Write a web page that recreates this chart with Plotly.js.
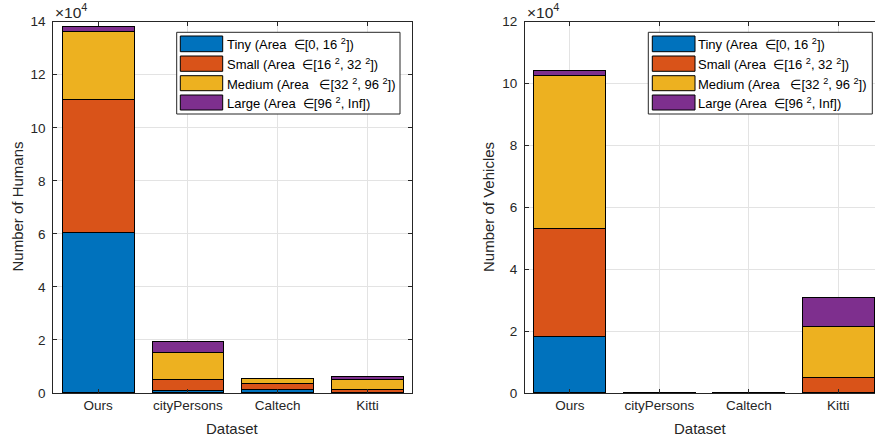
<!DOCTYPE html>
<html>
<head>
<meta charset="utf-8">
<script src="https://cdn.plot.ly/plotly-3.0.1.min.js"></script>
<style>html,body{margin:0;padding:0;background:#fff;}#chart{width:875px;height:440px;}</style>
</head>
<body>
<div id="chart"></div>
<script>
// ---- data ----
const categories = ["Ours", "cityPersons", "Caltech", "Kitti"];
const seriesNames = [
  "Tiny (Area \u00a0\u2208[0, 16 <sup>2</sup>])",
  "Small (Area \u00a0\u2208[16 <sup>2</sup>, 32 <sup>2</sup>])",
  "Medium (Area \u00a0\u00a0\u2208[32 <sup>2</sup>, 96 <sup>2</sup>])",
  "Large (Area \u00a0\u2208[96 <sup>2</sup>, Inf])"
];
const colors = ["#0072BD", "#D95319", "#EDB120", "#7E2F8E"];
// Humans
const humansTiny   = [60600, 1000, 1250, 200];
const humansSmall  = [49900, 3900, 2410, 1200];
const humansMedium = [25700, 10400, 1880, 3500];
const humansLarge  = [1900, 4300, 30, 1500];
// Vehicles
const vehiclesTiny   = [18300, 30, 30, 50];
const vehiclesSmall  = [34900, 30, 30, 5050];
const vehiclesMedium = [49500, 20, 20, 16300];
const vehiclesLarge  = [1400, 10, 10, 9500];

const humans = [humansTiny, humansSmall, humansMedium, humansLarge];
const vehicles = [vehiclesTiny, vehiclesSmall, vehiclesMedium, vehiclesLarge];

const W = 875, H = 440;
const px = x => x / W;
const py = y => 1 - y / H;

const traces = [];
humans.forEach((vals, i) => traces.push({
  type: 'bar', x: categories, y: vals, name: seriesNames[i], xaxis: 'x', yaxis: 'y',
  width: 0.8, marker: {color: colors[i], line: {color: '#000', width: 1}}, showlegend: false,
  hoverinfo: 'none'
}));
vehicles.forEach((vals, i) => traces.push({
  type: 'bar', x: categories, y: vals, name: seriesNames[i], xaxis: 'x2', yaxis: 'y2',
  width: 0.8, marker: {color: colors[i], line: {color: '#000', width: 1}}, showlegend: false,
  hoverinfo: 'none'
}));

const axColor = '#262626';
const gridColor = '#e3e3e3';
const fam = 'Liberation Sans, Arial, sans-serif';
const tickFont = {family: fam, size: 13.5, color: axColor};

function xAxis(domain, range) {
  return {
    domain: domain, range: range, type: 'category',
    showline: true, linecolor: axColor, linewidth: 1, mirror: 'ticks',
    ticks: 'inside', ticklen: 4, tickcolor: axColor,
    showgrid: true, gridcolor: gridColor, gridwidth: 1,
    tickfont: tickFont, zeroline: false, fixedrange: true
  };
}
function yAxis(domain, range, dtick, mirror, anchor) {
  const n = Math.round(range[1] / dtick) + 1;
  return {
    domain: domain, range: range, anchor: anchor,
    showline: true, linecolor: axColor, linewidth: 1, mirror: mirror,
    ticks: 'inside', ticklen: 4, tickcolor: axColor,
    showgrid: true, gridcolor: gridColor, gridwidth: 1,
    tickfont: tickFont, zeroline: false, fixedrange: true,
    tickmode: 'array',
    tickvals: Array.from({length: n}, (_, k) => k * dtick),
    ticktext: Array.from({length: n}, (_, k) => String(k * dtick / 10000)),
    ticklabelstandoff: 4
  };
}

const yDom = [py(393), py(21.7)];
const layout = {
  width: W, height: H,
  margin: {l: 0, r: 0, t: 0, b: 0},
  paper_bgcolor: '#fff', plot_bgcolor: '#fff',
  barmode: 'stack', bargap: 0.2,
  showlegend: false,
  xaxis: Object.assign(xAxis([px(53.3), px(412.3)], [-0.5, 3.5]), {anchor: 'y'}),
  yaxis: yAxis(yDom, [0, 140000], 20000, 'ticks', 'x'),
  xaxis2: Object.assign(xAxis([px(525), 1], [-0.5, 3.41]), {anchor: 'y2'}),
  yaxis2: yAxis(yDom, [0, 120000], 20000, false, 'x2'),
  shapes: [],
  annotations: []
};

const labelFont = {family: fam, size: 15, color: axColor};
layout.annotations.push(
  {text: 'Dataset', xref: 'paper', yref: 'paper', x: px(232.8), y: py(428.5), showarrow: false, font: labelFont, xanchor: 'center', yanchor: 'middle'},
  {text: 'Dataset', xref: 'paper', yref: 'paper', x: px(700), y: py(428.5), showarrow: false, font: labelFont, xanchor: 'center', yanchor: 'middle'},
  {text: 'Number of Humans', xref: 'paper', yref: 'paper', x: px(16.5), y: py(207), textangle: -90, showarrow: false, font: labelFont, xanchor: 'center', yanchor: 'middle'},
  {text: 'Number of Vehicles', xref: 'paper', yref: 'paper', x: px(488), y: py(207), textangle: -90, showarrow: false, font: labelFont, xanchor: 'center', yanchor: 'middle'},
  {text: '\u00d710<sup>4</sup>', xref: 'paper', yref: 'paper', x: px(53), y: py(11), showarrow: false, font: {family: fam, size: 15.5, color: axColor}, xanchor: 'left', yanchor: 'middle'},
  {text: '\u00d710<sup>4</sup>', xref: 'paper', yref: 'paper', x: px(525), y: py(11), showarrow: false, font: {family: fam, size: 15.5, color: axColor}, xanchor: 'left', yanchor: 'middle'}
);

function addLegend(boxX0, boxX1, swX0, swX1, textX) {
  layout.shapes.push({type: 'rect', xref: 'paper', yref: 'paper', x0: px(boxX0), x1: px(boxX1), y0: py(114), y1: py(32.3),
    line: {color: axColor, width: 1}, fillcolor: '#fff', layer: 'above'});
  const rows = [[36, 51.7], [56, 71.3], [75.7, 90.7], [95, 110]];
  rows.forEach((r, i) => {
    layout.shapes.push({type: 'rect', xref: 'paper', yref: 'paper', x0: px(swX0), x1: px(swX1), y0: py(r[1]), y1: py(r[0]),
      line: {color: '#000', width: 1}, fillcolor: colors[i], layer: 'above'});
    layout.annotations.push({text: seriesNames[i], xref: 'paper', yref: 'paper', x: px(textX), y: py((r[0] + r[1]) / 2 + 0.5),
      showarrow: false, xanchor: 'left', yanchor: 'middle',
      font: {family: fam, size: 13, color: '#000'}});
  });
}
addLegend(176.7, 400, 180.3, 222.7, 225);
addLegend(648.3, 872.3, 652.3, 695, 696);

Plotly.newPlot('chart', traces, layout, {displayModeBar: false, staticPlot: true});
</script>
</body>
</html>
